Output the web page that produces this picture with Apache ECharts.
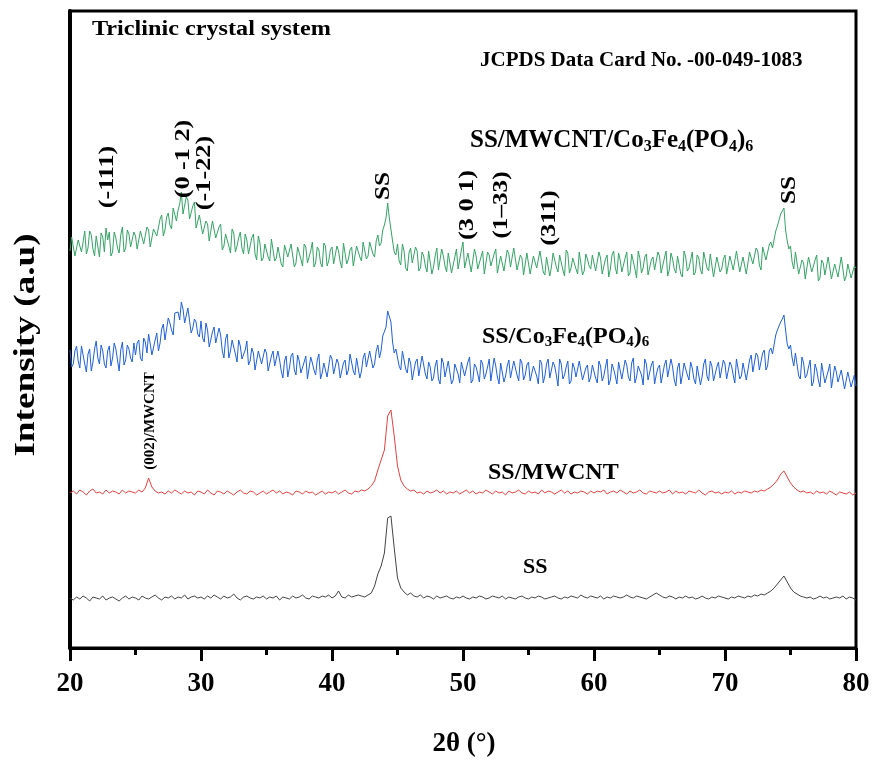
<!DOCTYPE html>
<html>
<head>
<meta charset="utf-8">
<script src="https://cdn.jsdelivr.net/npm/echarts@6/dist/echarts.min.js"></script>
<style>html,body{margin:0;padding:0;background:#fff}#c{width:874px;height:767px}</style>
</head>
<body>
<div id="c"></div>
<script>
// 2θ grid (degrees)
var twoTheta = [
20,20.25,20.5,20.75,21,21.25,21.5,21.75,22,22.25,22.5,22.75,23,23.25,23.5,23.75,24,24.25,24.5,24.75,
25,25.25,25.5,25.75,26,26.25,26.5,26.75,27,27.25,27.5,27.75,28,28.25,28.5,28.75,29,29.25,29.5,29.75,
30,30.25,30.5,30.75,31,31.25,31.5,31.75,32,32.25,32.5,32.75,33,33.25,33.5,33.75,34,34.25,34.5,34.75,
35,35.25,35.5,35.75,36,36.25,36.5,36.75,37,37.25,37.5,37.75,38,38.25,38.5,38.75,39,39.25,39.5,39.75,
40,40.25,40.5,40.75,41,41.25,41.5,41.75,42,42.25,42.5,42.75,43,43.25,43.5,43.75,44,44.25,44.5,44.75,
45,45.25,45.5,45.75,46,46.25,46.5,46.75,47,47.25,47.5,47.75,48,48.25,48.5,48.75,49,49.25,49.5,49.75,
50,50.25,50.5,50.75,51,51.25,51.5,51.75,52,52.25,52.5,52.75,53,53.25,53.5,53.75,54,54.25,54.5,54.75,
55,55.25,55.5,55.75,56,56.25,56.5,56.75,57,57.25,57.5,57.75,58,58.25,58.5,58.75,59,59.25,59.5,59.75,
60,60.25,60.5,60.75,61,61.25,61.5,61.75,62,62.25,62.5,62.75,63,63.25,63.5,63.75,64,64.25,64.5,64.75,
65,65.25,65.5,65.75,66,66.25,66.5,66.75,67,67.25,67.5,67.75,68,68.25,68.5,68.75,69,69.25,69.5,69.75,
70,70.25,70.5,70.75,71,71.25,71.5,71.75,72,72.25,72.5,72.75,73,73.25,73.5,73.75,74,74.25,74.5,74.75,
75,75.25,75.5,75.75,76,76.25,76.5,76.75,77,77.25,77.5,77.75,78,78.25,78.5,78.75,79,79.25,79.5,79.75,80
];
// intermediate 2θ points (noisier composite scans are sampled more finely)
var twoThetaMid = [
20.125,20.375,20.625,20.875,21.125,21.375,21.625,21.875,22.125,22.375,22.625,22.875,23.125,23.375,23.625,23.875,24.125,24.375,24.625,24.875,
25.125,25.375,25.625,25.875,26.125,26.375,26.625,26.875,27.125,27.375,27.625,27.875,28.125,28.375,28.625,28.875,29.125,29.375,29.625,29.875,
30.125,30.375,30.625,30.875,31.125,31.375,31.625,31.875,32.125,32.375,32.625,32.875,33.125,33.375,33.625,33.875,34.125,34.375,34.625,34.875,
35.125,35.375,35.625,35.875,36.125,36.375,36.625,36.875,37.125,37.375,37.625,37.875,38.125,38.375,38.625,38.875,39.125,39.375,39.625,39.875,
40.125,40.375,40.625,40.875,41.125,41.375,41.625,41.875,42.125,42.375,42.625,42.875,43.125,43.375,43.625,43.875,44.125,44.375,44.625,44.875,
45.125,45.375,45.625,45.875,46.125,46.375,46.625,46.875,47.125,47.375,47.625,47.875,48.125,48.375,48.625,48.875,49.125,49.375,49.625,49.875,
50.125,50.375,50.625,50.875,51.125,51.375,51.625,51.875,52.125,52.375,52.625,52.875,53.125,53.375,53.625,53.875,54.125,54.375,54.625,54.875,
55.125,55.375,55.625,55.875,56.125,56.375,56.625,56.875,57.125,57.375,57.625,57.875,58.125,58.375,58.625,58.875,59.125,59.375,59.625,59.875,
60.125,60.375,60.625,60.875,61.125,61.375,61.625,61.875,62.125,62.375,62.625,62.875,63.125,63.375,63.625,63.875,64.125,64.375,64.625,64.875,
65.125,65.375,65.625,65.875,66.125,66.375,66.625,66.875,67.125,67.375,67.625,67.875,68.125,68.375,68.625,68.875,69.125,69.375,69.625,69.875,
70.125,70.375,70.625,70.875,71.125,71.375,71.625,71.875,72.125,72.375,72.625,72.875,73.125,73.375,73.625,73.875,74.125,74.375,74.625,74.875,
75.125,75.375,75.625,75.875,76.125,76.375,76.625,76.875,77.125,77.375,77.625,77.875,78.125,78.375,78.625,78.875,79.125,79.375,79.625,79.875
];

// Intensity (a.u., offset-stacked) — SS
var ssIntensity = [
50,48,51,49,52,50,47,51,50,49,52,48,50,51,49,47,50,52,49,51,
50,48,52,50,49,51,53,50,48,51,50,52,49,51,50,53,49,51,52,50,
51,49,52,50,53,51,49,52,50,51,54,50,48,51,52,50,49,51,50,52,
49,51,50,52,48,51,50,49,52,50,51,53,50,49,52,51,50,52,51,53,
50,52,57,51,50,53,51,52,53,52,51,53,55,62,74,82,95,130,132,100,
70,60,56,53,55,52,51,53,50,52,51,49,52,50,51,52,50,49,51,50,
52,50,49,51,50,52,51,49,50,52,51,50,52,49,51,50,49,51,52,50,
49,51,50,52,51,49,50,51,52,50,49,51,50,52,51,50,53,51,50,52,
51,50,52,49,51,50,52,51,50,51,53,51,50,52,51,50,49,51,53,55,
53,51,50,52,51,49,51,50,52,50,51,49,50,52,50,49,51,50,52,51,
50,49,51,50,52,51,50,52,51,53,52,54,53,55,57,60,64,68,72,66,
60,56,54,52,51,50,51,49,50,52,50,51,49,50,51,50,52,49,51,50,48
];

// SS/MWCNT
var ssMwcntIntensity = [
155,157,154,158,156,153,157,159,155,156,154,158,155,157,156,154,158,155,157,156,
155,158,156,160,170,161,157,155,156,154,157,155,158,156,154,157,155,156,153,157,
156,154,158,155,153,157,156,154,157,155,153,156,158,155,154,157,156,153,155,157,
154,156,158,155,157,154,156,155,153,157,156,154,157,155,156,153,155,157,154,156,
155,157,154,156,158,155,154,157,156,158,157,159,162,167,178,188,198,232,238,212,
182,168,162,159,157,158,155,156,154,157,155,156,158,155,157,154,156,155,157,154,
156,158,155,157,154,156,155,158,156,154,157,155,156,153,157,155,156,158,155,154,
157,155,156,154,158,155,157,156,154,156,158,155,157,154,156,155,157,156,154,157,
155,157,156,158,154,156,157,155,158,156,154,157,155,156,158,155,154,157,156,155,
157,155,156,158,154,157,155,156,154,157,156,155,158,155,153,156,157,155,156,154,
156,155,157,154,156,155,157,156,155,157,156,158,157,159,161,164,168,174,177,171,
165,161,158,156,157,155,156,154,157,155,156,154,157,155,153,156,155,154,156,153,155
];

// SS/Co3Fe4(PO4)6 (on twoTheta and twoThetaMid)
var ssCfpIntensity = [
298,284,302,280,293,276,299,286,307,284,297,280,302,290,299,277,306,288,299,286,
293,308,287,306,314,293,308,297,319,308,330,318,335,336,346,325,340,315,329,314,
327,306,318,299,321,303,313,290,314,297,306,286,302,287,307,287,295,279,299,285,
295,278,297,280,288,270,292,280,295,273,287,275,292,269,285,273,294,275,286,269,
289,274,284,270,288,278,294,273,288,277,295,282,296,284,303,298,314,337,326,295,
298,278,295,275,285,267,289,274,291,269,281,270,288,264,285,273,288,268,282,265,
285,271,291,268,281,266,284,274,289,269,282,264,286,272,288,270,280,267,285,273,
286,268,281,264,285,272,289,269,282,262,284,273,287,267,280,270,288,266,283,271,
285,265,282,272,289,268,279,264,286,270,283,267,290,271,280,263,284,269,287,273,
283,266,288,270,281,262,285,273,287,268,280,264,284,271,289,267,282,265,286,272,
284,267,282,265,288,272,283,269,293,275,292,280,298,282,300,296,318,326,333,304,
303,282,294,269,285,273,288,266,278,261,283,267,284,262,276,264,279,258,276,267,262
];
var ssCfpIntensityMid = [
281,297,287,302,284,294,277,299,290,303,284,297,282,305,288,298,283,303,290,305,
305,290,310,295,304,293,315,305,324,309,325,313,336,328,339,323,339,320,326,311,
310,325,301,316,305,320,297,309,290,308,294,308,289,298,283,300,278,297,284,299,
277,292,282,297,277,287,271,292,278,293,275,286,269,291,278,288,269,285,271,293,
274,289,270,285,273,294,277,290,270,290,281,297,280,297,290,312,321,335,306,299,
282,297,279,290,268,286,272,292,274,286,267,282,269,290,271,287,264,284,274,286,
272,286,265,284,274,288,269,281,267,290,271,285,266,282,270,287,273,289,268,283,
267,282,272,288,265,284,270,286,273,289,269,281,264,285,271,287,268,280,266,283,
270,287,267,281,263,284,272,286,269,288,271,285,265,282,273,289,268,283,264,280,
265,283,271,289,268,280,264,285,273,286,269,282,263,284,272,287,267,281,270,288,
269,286,273,289,269,285,268,288,276,295,278,295,278,297,294,313,317,329,318,299,
290,295,272,291,270,281,262,284,268,285,265,277,260,282,266,278,259,276,261,273
];

// SS/MWCNT/Co3Fe4(PO4)6 (on twoTheta and twoThetaMid)
var ssMwcntCfpIntensity = [
397,412,391,410,406,394,417,399,412,391,411,420,416,396,410,395,421,400,414,399,
412,399,419,405,418,400,420,410,433,418,435,419,439,438,456,432,448,429,446,421,
435,414,424,407,425,409,424,402,416,395,415,402,416,394,408,395,414,388,405,390,
405,387,409,390,400,381,404,392,405,385,399,382,401,387,406,385,398,381,402,387,
401,385,397,380,404,389,401,384,400,387,408,392,405,391,413,405,423,445,432,396,
404,383,397,377,400,384,397,380,392,376,397,381,400,378,392,376,394,383,399,379,
406,378,395,374,392,381,397,376,393,382,399,377,391,375,394,380,398,379,390,373,
394,375,390,378,399,373,393,381,396,376,391,372,395,380,392,374,397,377,389,379,
395,376,390,372,393,379,397,374,388,377,396,375,392,370,390,380,394,373,391,378,
392,373,397,378,389,375,394,371,391,380,396,376,390,374,398,377,393,372,389,379,
393,374,390,377,397,376,391,375,397,384,397,378,403,389,406,402,422,434,440,407,
402,379,395,374,385,369,389,375,393,370,385,372,389,368,384,370,390,372,382,369,380
];
var ssMwcntCfpIntensityMid = [
411,392,408,396,417,400,413,392,410,415,396,408,392,416,400,413,396,418,401,416,
399,417,404,421,401,419,412,429,412,431,423,440,427,444,434,451,429,442,420,433,
414,427,407,427,410,421,398,414,402,419,396,410,400,414,394,410,394,412,387,404,
391,409,387,401,384,403,391,404,381,401,389,404,385,397,381,401,385,405,382,398,
384,402,386,405,384,398,382,402,391,406,389,406,394,407,402,418,430,430,407,393,
387,404,380,395,385,401,377,396,382,397,374,392,378,399,382,395,375,391,379,398,
380,395,376,399,379,391,374,396,382,394,375,392,377,398,381,400,378,393,373,395,
374,392,380,397,376,391,372,395,381,393,378,398,375,390,379,396,373,394,382,393,
377,396,374,389,371,393,380,395,376,390,372,394,379,397,375,391,373,388,378,396,
375,390,372,395,379,392,374,397,377,388,373,393,378,396,380,394,371,391,376,389,
374,392,378,397,376,391,374,396,384,400,383,401,388,403,400,417,424,436,418,399,
386,396,374,388,369,391,376,388,367,388,373,391,369,384,371,391,367,384,370,382
];

var xTicks = [20, 30, 40, 50, 60, 70, 80];

function pairs(ys) { return twoTheta.map(function (x, i) { return [x, ys[i]]; }); }
function pairsFine(ys, ysMid) {
  var out = [];
  for (var i = 0; i < twoTheta.length; i++) {
    out.push([twoTheta[i], ys[i]]);
    if (i < twoThetaMid.length) out.push([twoThetaMid[i], ysMid[i]]);
  }
  return out;
}

var FF = '"Liberation Serif","Times New Roman",serif';
function txt(x, y, text, size, opts) {
  opts = opts || {};
  return {
    type: 'text', x: x, y: y, rotation: opts.rot || 0, scaleX: opts.sx || 1, scaleY: opts.sy || 1, z: 100,
    style: {
      text: text, fill: '#000', fontFamily: FF, fontWeight: 'bold', fontSize: size,
      textAlign: opts.align || 'center', textVerticalAlign: 'middle', rich: opts.rich
    }
  };
}
var R = Math.PI / 2;
function richDef(size, sub) {
  return {
    a: { fontFamily: FF, fontWeight: 'bold', fontSize: size, lineHeight: size + 2, fill: '#000' },
    s: { fontFamily: FF, fontWeight: 'bold', fontSize: sub, lineHeight: sub + 2, verticalAlign: 'bottom', fill: '#000' }
  };
}

var chart = echarts.init(document.getElementById('c'), null, { renderer: 'canvas' });
chart.setOption({
  animation: false,
  backgroundColor: '#fff',
  grid: { left: 70, right: 18, top: 11, bottom: 119, show: true, borderColor: '#000', borderWidth: 3, backgroundColor: 'transparent' },
  xAxis: {
    type: 'value', min: 20, max: 80, interval: 10,
    axisLine: { show: true, onZero: false, lineStyle: { color: '#000', width: 3 } },
    axisTick: { show: true, inside: false, length: 13, lineStyle: { color: '#000', width: 3 } },
    minorTick: { show: true, splitNumber: 2, length: 7, lineStyle: { color: '#000', width: 3 } },
    axisLabel: { color: '#000', fontFamily: FF, fontWeight: 'bold', fontSize: 27, margin: 23,
      formatter: function (v) { return xTicks.indexOf(v) >= 0 ? String(v) : ''; } },
    splitLine: { show: false }, minorSplitLine: { show: false }
  },
  yAxis: {
    type: 'value', min: 0, max: 637,
    axisLine: { show: true, onZero: false, lineStyle: { color: '#000', width: 4 } },
    axisTick: { show: false }, axisLabel: { show: false }, splitLine: { show: false }
  },
  series: [
    { name: 'SS', type: 'line', data: pairs(ssIntensity), symbol: 'none', lineStyle: { color: '#444444', width: 1 } },
    { name: 'SS/MWCNT', type: 'line', data: pairs(ssMwcntIntensity), symbol: 'none', lineStyle: { color: '#e8403f', width: 1 } },
    { name: 'SS/Co3Fe4(PO4)6', type: 'line', data: pairsFine(ssCfpIntensity, ssCfpIntensityMid), symbol: 'none', lineStyle: { color: '#1f62d6', width: 1 } },
    { name: 'SS/MWCNT/Co3Fe4(PO4)6', type: 'line', data: pairsFine(ssMwcntCfpIntensity, ssMwcntCfpIntensityMid), symbol: 'none', lineStyle: { color: '#34a466', width: 1 } }
  ],
  graphic: [
    txt(92, 29, 'Triclinic crystal system', 22, { align: 'left', sx: 1.1 }),
    txt(480, 61, 'JCPDS Data Card No. -00-049-1083', 21, { align: 'left' }),
    txt(470, 141, '{a|SS/MWCNT/Co}{s|3}{a|Fe}{s|4}{a|(PO}{s|4}{a|)}{s|6}', 25, { align: 'left', rich: richDef(25, 16) }),
    txt(482, 337, '{a|SS/Co}{s|3}{a|Fe}{s|4}{a|(PO}{s|4}{a|)}{s|6}', 24, { align: 'left', rich: richDef(24, 15) }),
    txt(488, 473, 'SS/MWCNT', 24, { align: 'left' }),
    txt(523, 567, 'SS', 22, { align: 'left' }),
    txt(108, 177, '(-111)', 21, { rot: R, sx: 1.25 }),
    txt(184, 159, '(0 -1 2)', 21, { rot: R, sx: 1.25 }),
    txt(205, 173, '(-1-22)', 21, { rot: R, sx: 1.25 }),
    txt(384, 186, 'SS', 21, { rot: R, sx: 1.2 }),
    txt(468, 205, '(3 0 1)', 21, { rot: R, sx: 1.25 }),
    txt(502, 205, '(1\u201333)', 21, { rot: R, sx: 1.2 }),
    txt(550, 218, '(311)', 21, { rot: R, sx: 1.25 }),
    txt(790, 190, 'SS', 21, { rot: R, sx: 1.2 }),
    txt(150, 421, '(002)/MWCNT', 15, { rot: R }),
    txt(26, 345, 'Intensity (a.u)', 30, { rot: R, sx: 1.24 }),
    txt(464, 744, '2\u03b8 (\u00b0)', 27, {})
  ]
});
</script>
</body>
</html>
